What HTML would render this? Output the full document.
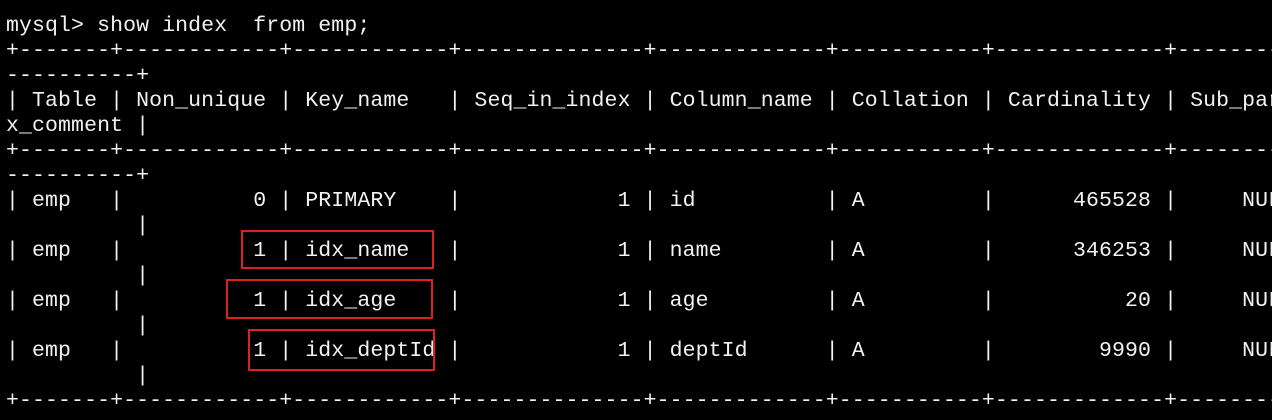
<!DOCTYPE html>
<html><head><meta charset="utf-8"><style>
html,body{margin:0;padding:0;background:#000;width:1272px;height:420px;overflow:hidden;}
pre{position:absolute;left:6px;top:14px;margin:0;font-family:"Liberation Mono",monospace;font-size:21.5px;letter-spacing:0.11px;line-height:25px;color:#f2f2f2;white-space:pre;}
.b{position:absolute;border:2px solid #e02020;box-sizing:border-box;}
</style></head><body>
<pre>mysql&gt; show index  from emp;
+-------+------------+------------+--------------+-------------+-----------+-------------+----------
----------+
| Table | Non_unique | Key_name   | Seq_in_index | Column_name | Collation | Cardinality | Sub_part |
x_comment |
+-------+------------+------------+--------------+-------------+-----------+-------------+----------
----------+
| emp   |          0 | PRIMARY    |            1 | id          | A         |      465528 |     NULL |
          |
| emp   |          1 | idx_name   |            1 | name        | A         |      346253 |     NULL |
          |
| emp   |          1 | idx_age    |            1 | age         | A         |          20 |     NULL |
          |
| emp   |          1 | idx_deptId |            1 | deptId      | A         |        9990 |     NULL |
          |
+-------+------------+------------+--------------+-------------+-----------+-------------+----------
</pre>
<div class="b" style="left:241px;top:230px;width:193px;height:39px"></div>
<div class="b" style="left:226px;top:279px;width:207px;height:40px"></div>
<div class="b" style="left:248px;top:329px;width:187px;height:42px"></div>
</body></html>
